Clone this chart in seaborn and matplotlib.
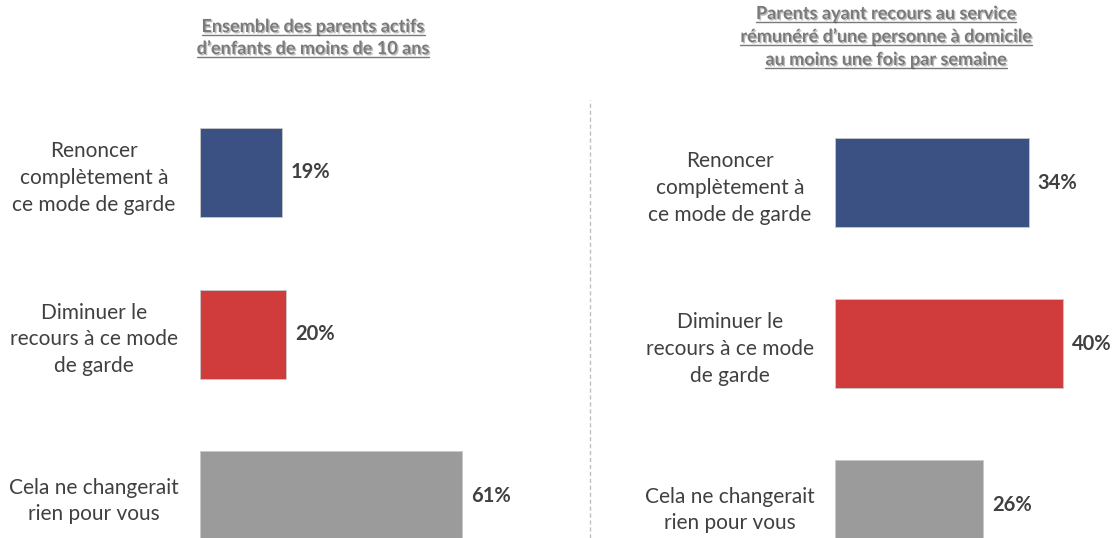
import matplotlib
matplotlib.use("Agg")
import matplotlib.pyplot as plt
import matplotlib.patheffects as pe
from matplotlib.lines import Line2D
import seaborn as sns
import pandas as pd

categories = ["Renoncer\ncomplètement à\nce mode de garde",
              "Diminuer le\nrecours à ce mode\nde garde",
              "Cela ne changerait\nrien pour vous"]
values_left = [19, 20, 61]
values_right = [34, 40, 26]
colors = ["#3c5183", "#d03b3c", "#9b9b9b"]
title_left = ["Ensemble des parents actifs", "d\u2019enfants de moins de 10 ans"]
title_right = ["Parents ayant recours au service",
               "rémunéré d\u2019une personne à domicile",
               "au moins une fois par semaine"]

sns.set_theme(style="white")
plt.rcParams['font.family'] = ['Lato', 'DejaVu Sans']

W, H = 1115, 538
DPI = 100
fig = plt.figure(figsize=(W / DPI, H / DPI), dpi=DPI)

def panel(values, left_px, width_px, px_per_pct, center0, spacing, label_center_px, bar_h_px):
    ax = fig.add_axes([left_px / W, 0, width_px / W, 1])
    df = pd.DataFrame({"cat": categories, "val": values})
    sns.barplot(data=df, x="val", y="cat", hue="cat", palette=colors, legend=False,
                orient="h", width=bar_h_px / spacing, ax=ax,
                edgecolor="#c8c8c8", linewidth=0.6, saturation=1)
    ax.set_xlim(0, width_px / px_per_pct)
    top = -center0 / spacing
    bottom = (H - center0) / spacing
    ax.set_ylim(bottom, top)
    for c in ax.containers:
        ax.bar_label(c, fmt="{:.0f}%", padding=6.5, fontsize=14.5, fontweight="bold", color="#404040")
    ax.set_xlabel("")
    ax.set_ylabel("")
    ax.set_xticks([])
    pad_pt = (left_px - label_center_px) * 72 / DPI
    ax.tick_params(axis="y", length=0, pad=pad_pt, labelsize=15, labelcolor="#404040")
    for lab in ax.get_yticklabels():
        lab.set_ha("center")
        lab.set_multialignment("center")
        lab.set_linespacing(1.42)
    for s in ax.spines.values():
        s.set_visible(False)
    ax.patch.set_alpha(0)
    return ax

panel(values_left, 200, 340, 4.3, 172.5, 161.5, 94, 89)
panel(values_right, 835, 260, 5.7, 182.5, 161.0, 730, 89)

# separator
fig.add_artist(Line2D([590 / W, 590 / W], [0, 1 - 100 / H], color="#c0c0c0",
                      linestyle=(0, (3, 2)), linewidth=1))

# titles
renderer = fig.canvas.get_renderer()
def title(lines, cx, y0, dy):
    for i, line in enumerate(lines):
        ybase = H - (y0 + i * dy)
        t = fig.text(cx / W, ybase / H, line, ha="center", va="baseline",
                     fontsize=13, fontweight="bold", color="#7a7a7a",
                     path_effects=[pe.withSimplePatchShadow(offset=(1, -1), shadow_rgbFace="#000000", alpha=0.25)])
        bb = t.get_window_extent(renderer)
        yl = (ybase - 2.5) / H
        fig.add_artist(Line2D([bb.x0 / W, bb.x1 / W], [yl, yl], color="#7a7a7a", linewidth=1))

title(title_left, 313, 32, 22)
title(title_right, 886, 19, 23)

fig.savefig("out.png", dpi=DPI)
